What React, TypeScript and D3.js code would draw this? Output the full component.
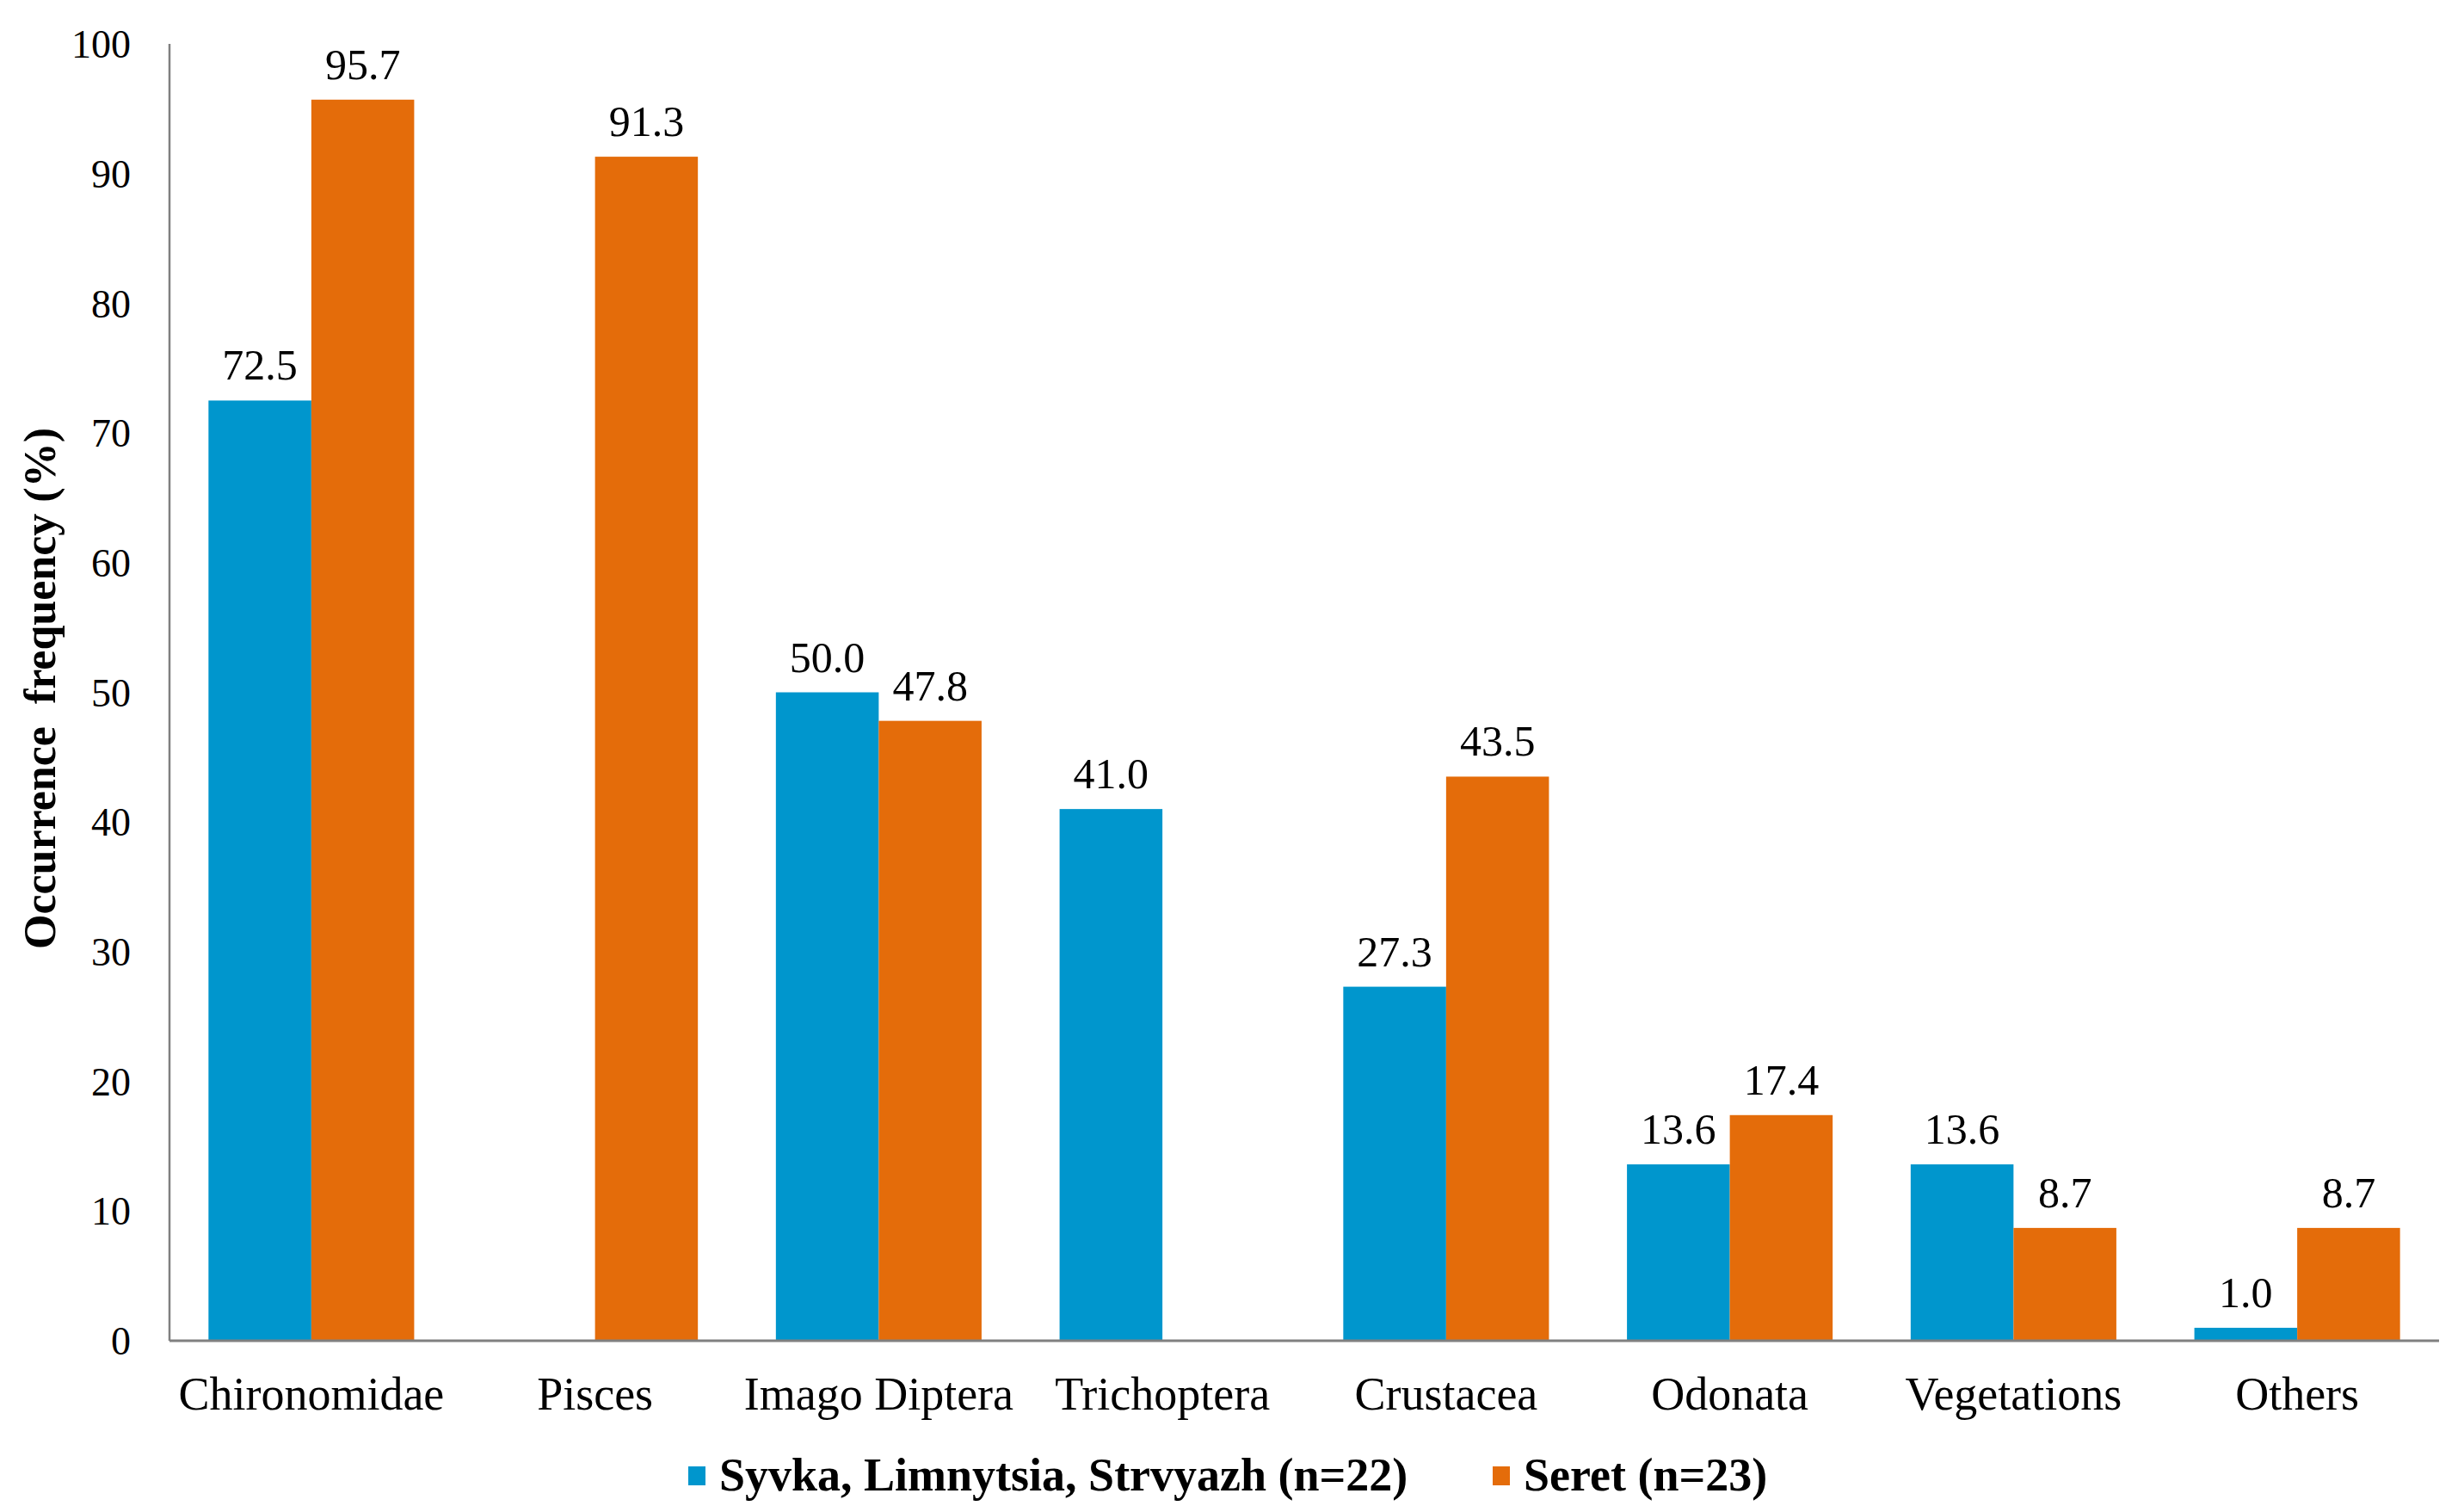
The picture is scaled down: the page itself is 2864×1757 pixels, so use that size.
import React, { useRef, useEffect } from "react";
import * as d3 from "d3";

const categories = [
  "Chironomidae",
  "Pisces",
  "Imago Diptera",
  "Trichoptera",
  "Crustacea",
  "Odonata",
  "Vegetations",
  "Others",
];
const seriesNames = ["Syvka, Limnytsia, Strvyazh (n=22)", "Seret (n=23)"];
const syvkaValues: (number | null)[] = [72.5, null, 50.0, 41.0, 27.3, 13.6, 13.6, 1.0];
const seretValues: (number | null)[] = [95.7, 91.3, 47.8, null, 43.5, 17.4, 8.7, 8.7];
const yTicks = [0, 10, 20, 30, 40, 50, 60, 70, 80, 90, 100];
const colors = ["#0096cd", "#e46c0a"];

const width = 2864;
const height = 1757;
const font = "Liberation Serif, Times New Roman, serif";

const App: React.FC = () => {
  const svgRef = useRef<SVGSVGElement | null>(null);

  useEffect(() => {
    document.body.style.margin = "0";
    if (!svgRef.current) return;
    const svg = d3.select(svgRef.current);
    svg.selectAll("*").remove();

    const left = 197;
    const right = 2835;
    const top = 51;
    const bottom = 1558;

    const x = d3
      .scaleBand<string>()
      .domain(categories)
      .range([left, right])
      .paddingInner(0.275)
      .paddingOuter(0.1375);
    const xs = d3
      .scaleBand<string>()
      .domain(["0", "1"])
      .range([0, x.bandwidth()]);
    const y = d3.scaleLinear().domain([0, 100]).range([bottom, top]);

    svg.append("rect").attr("width", width).attr("height", height).attr("fill", "white");

    // y tick labels
    svg
      .append("g")
      .selectAll("text")
      .data(yTicks)
      .enter()
      .append("text")
      .attr("x", 152)
      .attr("y", (d) => y(d))
      .attr("dy", "0.35em")
      .attr("text-anchor", "end")
      .attr("font-family", font)
      .attr("font-size", 46)
      .attr("fill", "#000")
      .text((d) => d);

    // bars + value labels
    const series = [syvkaValues, seretValues];
    series.forEach((vals, si) => {
      const g = svg.append("g");
      const data = categories
        .map((c, i) => ({ c, v: vals[i] }))
        .filter((d) => d.v !== null) as { c: string; v: number }[];
      g.selectAll("rect")
        .data(data)
        .enter()
        .append("rect")
        .attr("x", (d) => (x(d.c) as number) + (xs(String(si)) as number))
        .attr("y", (d) => y(d.v))
        .attr("width", xs.bandwidth())
        .attr("height", (d) => y(0) - y(d.v))
        .attr("fill", colors[si]);
      g.selectAll("text")
        .data(data)
        .enter()
        .append("text")
        .attr("x", (d) => (x(d.c) as number) + (xs(String(si)) as number) + xs.bandwidth() / 2)
        .attr("y", (d) => y(d.v) - 24)
        .attr("text-anchor", "middle")
        .attr("font-family", font)
        .attr("font-size", 50)
        .attr("fill", "#000")
        .text((d) => d.v.toFixed(1));
    });

    // axis lines
    svg
      .append("line")
      .attr("x1", left)
      .attr("x2", left)
      .attr("y1", top)
      .attr("y2", bottom)
      .attr("stroke", "#808080")
      .attr("stroke-width", 2.5);
    svg
      .append("line")
      .attr("x1", left)
      .attr("x2", right)
      .attr("y1", bottom)
      .attr("y2", bottom)
      .attr("stroke", "#808080")
      .attr("stroke-width", 3);

    // x labels
    svg
      .append("g")
      .selectAll("text")
      .data(categories)
      .enter()
      .append("text")
      .attr("x", (d) => (x(d) as number) + x.bandwidth() / 2)
      .attr("y", 1638)
      .attr("text-anchor", "middle")
      .attr("font-family", font)
      .attr("font-size", 54)
      .attr("fill", "#000")
      .text((d) => d);

    // y title
    svg
      .append("text")
      .attr("transform", `translate(64, 800) rotate(-90)`)
      .attr("text-anchor", "middle")
      .attr("font-family", font)
      .attr("font-weight", "bold")
      .attr("font-size", 52)
      .attr("fill", "#000")
      .attr("xml:space", "preserve")
      .text("Occurrence  frequency (%)");

    // legend
    const legendX = [800, 1735];
    seriesNames.forEach((name, i) => {
      svg
        .append("rect")
        .attr("x", legendX[i])
        .attr("y", 1704)
        .attr("width", 20)
        .attr("height", 22)
        .attr("fill", colors[i]);
      svg
        .append("text")
        .attr("x", legendX[i] + 36)
        .attr("y", 1732)
        .attr("font-family", font)
        .attr("font-weight", "bold")
        .attr("font-size", 54)
        .attr("fill", "#000")
        .text(name);
    });
  }, []);

  return (
    <svg
      ref={svgRef}
      width={width}
      height={height}
      viewBox={`0 0 ${width} ${height}`}
      style={{ display: "block" }}
    ></svg>
  );
};

export default App;
